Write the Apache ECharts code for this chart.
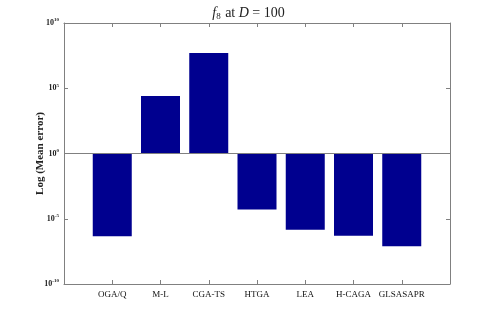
<!DOCTYPE html>
<html>
<head>
<meta charset="utf-8">
<script src="https://cdn.jsdelivr.net/npm/echarts@6/dist/echarts.min.js"></script>
<style>
  html, body { margin: 0; padding: 0; background: #fff; }
  #chart { width: 497px; height: 320px; }
</style>
</head>
<body>
<div id="chart"></div>
<script>
// algorithms on the x axis
let algorithms = ['OGA/Q', 'M-L', 'CGA-TS', 'HTGA', 'LEA', 'H-CAGA', 'GLSASAPR']
// log10 of mean error
let logMeanError = [-6.35, 4.4, 7.7, -4.3, -5.85, -6.3, -7.1]

let barColor = '#00008f'
let frameColor = '#808080'
let serif = 'Liberation Serif, DejaVu Serif, serif'

let chart = echarts.init(document.getElementById('chart'))

let barData = logMeanError.map((v, i) => [i + 1, v])

// shared look of the box axes (matlab style, ticks pointing in)
let boxLine = { onZero: false, lineStyle: { color: frameColor, width: 1 } }
let boxTick = { inside: true, length: 4, lineStyle: { color: frameColor } }

let option = {
  animation: false,
  title: {
    text: '{f|f}{sub|8}{n| at }{f|D}{n| = 100}',
    left: 'center',
    top: 1,
    textStyle: {
      fontWeight: 'normal',
      rich: {
        f: { fontFamily: serif, fontStyle: 'italic', fontWeight: 'normal', fontSize: 14, color: '#222' },
        sub: { fontFamily: serif, fontWeight: 'normal', fontSize: 9, color: '#222', verticalAlign: 'bottom', padding: [6, 1, 0, 0] },
        n: { fontFamily: serif, fontWeight: 'normal', fontSize: 14, color: '#222' }
      }
    }
  },
  grid: {
    left: 64,
    right: 47,
    top: 23,
    bottom: 36
  },
  xAxis: [
    {
      type: 'value',
      min: 0,
      max: 8,
      interval: 1,
      axisLine: boxLine,
      axisTick: boxTick,
      splitLine: { show: false },
      axisLabel: {
        margin: 6,
        fontFamily: serif,
        fontSize: 9,
        color: '#111',
        formatter: function (v) {
          return algorithms[v - 1] || ''
        }
      }
    },
    {
      type: 'value',
      position: 'top',
      min: 0,
      max: 8,
      interval: 1,
      axisLine: boxLine,
      axisTick: boxTick,
      splitLine: { show: false },
      axisLabel: { show: false }
    }
  ],
  yAxis: [
    {
      type: 'value',
      min: -10,
      max: 10,
      interval: 5,
      name: 'Log (Mean error)',
      nameLocation: 'middle',
      nameGap: 18,
      nameMoveOverlap: false,
      nameTextStyle: {
        fontFamily: serif,
        fontWeight: 'bold',
        fontSize: 11,
        color: '#222'
      },
      axisLine: boxLine,
      axisTick: boxTick,
      splitLine: { show: false },
      axisLabel: {
        margin: 5,
        formatter: function (v) {
          return '{b|10}{s|' + v + '}'
        },
        rich: {
          b: { fontFamily: serif, fontWeight: 'bold', fontSize: 8, color: '#222' },
          s: { fontFamily: serif, fontWeight: 'bold', fontSize: 5, color: '#222', verticalAlign: 'top', padding: [0, 0, 6, 0] }
        }
      }
    },
    {
      type: 'value',
      position: 'right',
      min: -10,
      max: 10,
      interval: 5,
      axisLine: boxLine,
      axisTick: boxTick,
      splitLine: { show: false },
      axisLabel: { show: false }
    }
  ],
  series: [
    {
      type: 'bar',
      xAxisIndex: 0,
      yAxisIndex: 0,
      barWidth: 39,
      itemStyle: { color: barColor },
      data: barData,
      markLine: {
        silent: true,
        symbol: 'none',
        label: { show: false },
        lineStyle: { color: frameColor, type: 'solid', width: 1 },
        data: [{ yAxis: 0 }]
      }
    }
  ]
}

chart.setOption(option)
</script>
</body>
</html>
